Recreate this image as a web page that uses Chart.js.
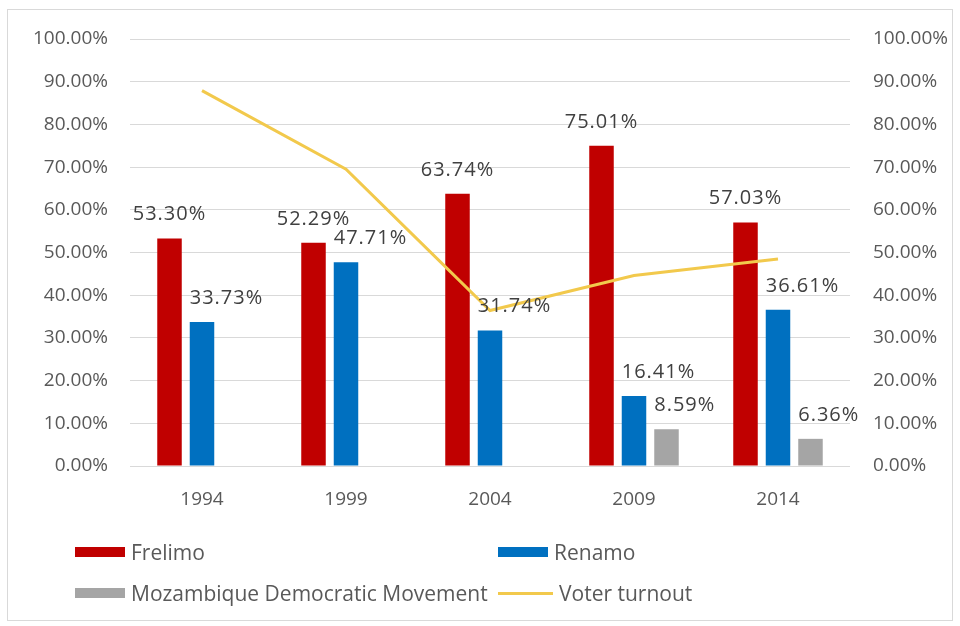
<!DOCTYPE html>
<html>
<head>
<meta charset="utf-8">
<script src="https://cdn.jsdelivr.net/npm/chart.js@4.4.0/dist/chart.umd.min.js"></script>
<style>
  body { margin: 0; background: #fff; font-family: "Open Sans", sans-serif; }
  #frame { position: absolute; left: 7px; top: 9px; width: 946px; height: 612px; border: 1px solid #d9d9d9; box-sizing: border-box; }
  #wrap { position: absolute; left: 0; top: 0; width: 960px; height: 520px; }
  #legend { position: absolute; left: 0; top: 0; width: 960px; height: 626px; pointer-events: none; }
  .item { position: absolute; display: flex; align-items: center; font-size: 21px; color: #595959; height: 30px; }
  .item .sw { width: 50px; margin-right: 6px; }
</style>
</head>
<body>
<div id="frame"></div>
<div id="wrap"><canvas id="chart" width="960" height="520"></canvas></div>
<div id="legend"></div>
<script>
const years = ['1994', '1999', '2004', '2009', '2014'];
const frelimo = [53.30, 52.29, 63.74, 75.01, 57.03];
const renamo = [33.73, 47.71, 31.74, 16.41, 36.61];
const mdm = [null, null, null, 8.59, 6.36];
const turnout = [87.9, 69.5, 36.4, 44.6, 48.5];

const colors = { frelimo: '#C00000', renamo: '#0070C0', mdm: '#A5A5A5', turnout: '#F2C94C' };
const pct = v => v.toFixed(2) + '%';

// labels above bars: red centred, the others start at the bar's left edge
const barLabels = {
    id: 'barLabels',
    afterDatasetsDraw(chart) {
        const ctx = chart.ctx;
        ctx.save();
        ctx.font = '20px "Open Sans"';
        ctx.fillStyle = '#404040';
        ctx.textBaseline = 'alphabetic';
        if ('letterSpacing' in ctx) ctx.letterSpacing = '1px';
        [0, 1, 2].forEach(i => {
            const meta = chart.getDatasetMeta(i);
            const data = chart.data.datasets[i].data;
            meta.data.forEach((bar, j) => {
                if (data[j] == null) return;
                const w = bar.width;
                if (i === 0) {
                    ctx.textAlign = 'center';
                    ctx.fillText(pct(data[j]), bar.x, bar.y - 18);
                } else {
                    ctx.textAlign = 'left';
                    ctx.fillText(pct(data[j]), bar.x - w / 2, bar.y - 18);
                }
            });
        });
        ctx.restore();
    }
};

const tickFont = { family: 'Open Sans', size: 19 };

const chart = new Chart(document.getElementById('chart').getContext('2d'), {
    type: 'bar',
    data: {
        labels: years,
        datasets: [
            { label: 'Frelimo', data: frelimo, backgroundColor: colors.frelimo, order: 1, yAxisID: 'y' },
            { label: 'Renamo', data: renamo, backgroundColor: colors.renamo, order: 1, yAxisID: 'y' },
            { label: 'Mozambique Democratic Movement', data: mdm, backgroundColor: colors.mdm, order: 1, yAxisID: 'y' },
            { type: 'line', label: 'Voter turnout', data: turnout, borderColor: colors.turnout, backgroundColor: colors.turnout,
              borderWidth: 3, pointRadius: 0, tension: 0, order: 0, yAxisID: 'y1' }
        ]
    },
    options: {
        responsive: false,
        animation: false,
        datasets: { bar: { categoryPercentage: 0.677, barPercentage: 0.754 } },
        layout: { padding: { top: 39, left: 0, right: 0, bottom: 0 } },
        plugins: { legend: { display: false }, tooltip: { enabled: false } },
        scales: {
            x: {
                grid: { display: false },
                border: { display: false },
                ticks: { font: tickFont, color: '#595959', padding: 14 },
                afterFit: s => { s.height = 54; }
            },
            y: {
                position: 'left', min: 0, max: 100,
                ticks: { stepSize: 10, font: tickFont, color: '#595959', padding: 22, callback: v => pct(v) },
                grid: { color: '#d9d9d9', lineWidth: 1, drawTicks: false },
                border: { display: false },
                afterFit: s => { s.width = 130; }
            },
            y1: {
                position: 'right', min: 0, max: 100,
                ticks: { stepSize: 10, font: tickFont, color: '#595959', padding: 23, callback: v => pct(v) },
                grid: { display: false, drawTicks: false },
                border: { display: false },
                afterFit: s => { s.width = 110; }
            }
        }
    },
    plugins: [barLabels]
});

// legend in two columns like the original
const legendPos = [[75, 537], [498, 537], [75, 578], [498, 578]];
const legend = document.getElementById('legend');
chart.data.datasets.forEach((ds, i) => {
    const item = document.createElement('div');
    item.className = 'item';
    item.style.left = legendPos[i][0] + 'px';
    item.style.top = legendPos[i][1] + 'px';
    const sw = document.createElement('span');
    sw.className = 'sw';
    sw.style.background = ds.backgroundColor;
    sw.style.height = ds.type === 'line' ? '3px' : '10px';
    if (ds.type === 'line') sw.style.width = '55px';
    item.appendChild(sw);
    item.appendChild(document.createTextNode(ds.label));
    legend.appendChild(item);
});
</script>
</body>
</html>
